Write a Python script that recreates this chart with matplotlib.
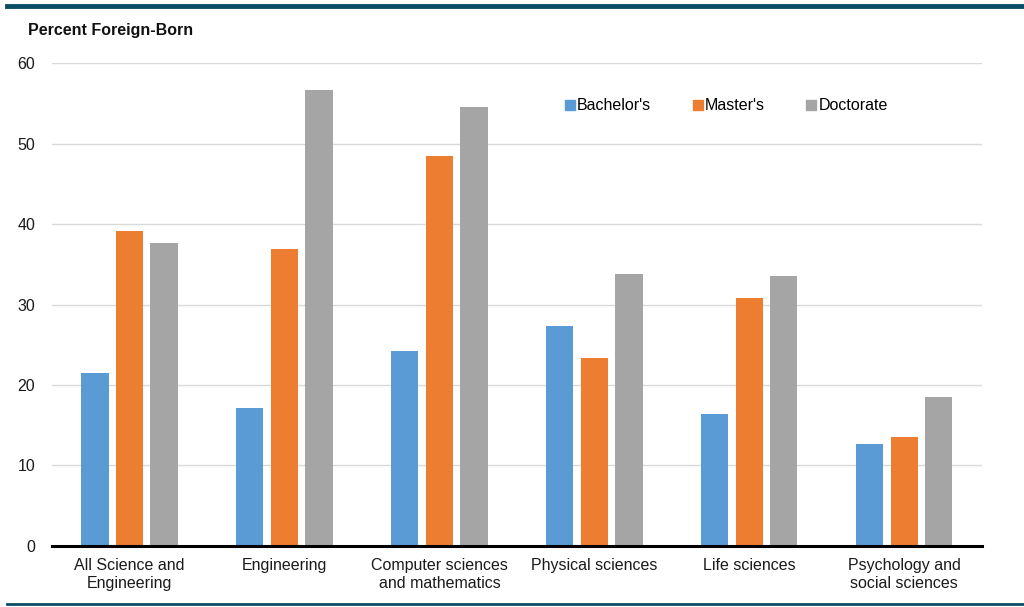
import matplotlib.pyplot as plt
import numpy as np
from matplotlib.lines import Line2D

plt.rcParams['font.family'] = ['Liberation Sans', 'DejaVu Sans']

categories = ['All Science and\nEngineering', 'Engineering', 'Computer sciences\nand mathematics',
              'Physical sciences', 'Life sciences', 'Psychology and\nsocial sciences']
bachelors = [21.5, 17.2, 24.2, 27.3, 16.4, 12.7]
masters = [39.1, 36.9, 48.5, 23.4, 30.8, 13.5]
doctorate = [37.7, 56.6, 54.5, 33.8, 33.5, 18.5]

series = [("Bachelor's", bachelors, '#5b9bd5'),
          ("Master's", masters, '#ed7d31'),
          ('Doctorate', doctorate, '#a5a5a5')]

fig = plt.figure(figsize=(10.24, 6.07), dpi=100)
ax = fig.add_axes([0.0508, 0.1005, 0.908, 0.7957])

x = np.arange(len(categories))
w = 0.175
step = 0.223
for i, (name, vals, col) in enumerate(series):
    ax.bar(x + (i - 1) * step, vals, width=w, color=col, zorder=3)

ax.set_xlim(-0.5, len(categories) - 0.5)
ax.set_ylim(0, 60)
ax.set_yticks(range(0, 61, 10))
ax.yaxis.grid(True, color='#d9d9d9', linewidth=1, zorder=0)
ax.set_xticks(x)
ax.set_xticklabels(categories, fontsize=11.5, color='#1a1a1a', linespacing=1.2)
ax.tick_params(axis='y', labelsize=11.5, length=0, pad=12, labelcolor='#1a1a1a')
ax.tick_params(axis='x', length=0, pad=9)
for s in ['top', 'right', 'left']:
    ax.spines[s].set_visible(False)
ax.spines['bottom'].set_linewidth(2.2)
ax.spines['bottom'].set_color('black')
ax.spines['bottom'].set_zorder(4)

handles = [Line2D([], [], marker='s', linestyle='none', markersize=7,
                  markerfacecolor=c, markeredgecolor=c) for _, _, c in series]
ax.legend(handles, [s[0] for s in series], loc='center', bbox_to_anchor=(0.724, 0.911),
          ncol=3, frameon=False, fontsize=11.5, handletextpad=0.0, columnspacing=2.45,
          handlelength=0.9)

fig.text(0.027, 0.949, 'Percent Foreign-Born', fontsize=11.5, fontweight='bold',
         va='center', ha='left', color='#111111')

fig.add_artist(Line2D([0.007, 1.0], [0.99, 0.99], color='#0b4d66', linewidth=3.5,
                      transform=fig.transFigure))
fig.add_artist(Line2D([0.007, 1.0], [0.005, 0.005], color='#0b4d66', linewidth=2,
                      transform=fig.transFigure))

fig.savefig('out.png', dpi=100)
